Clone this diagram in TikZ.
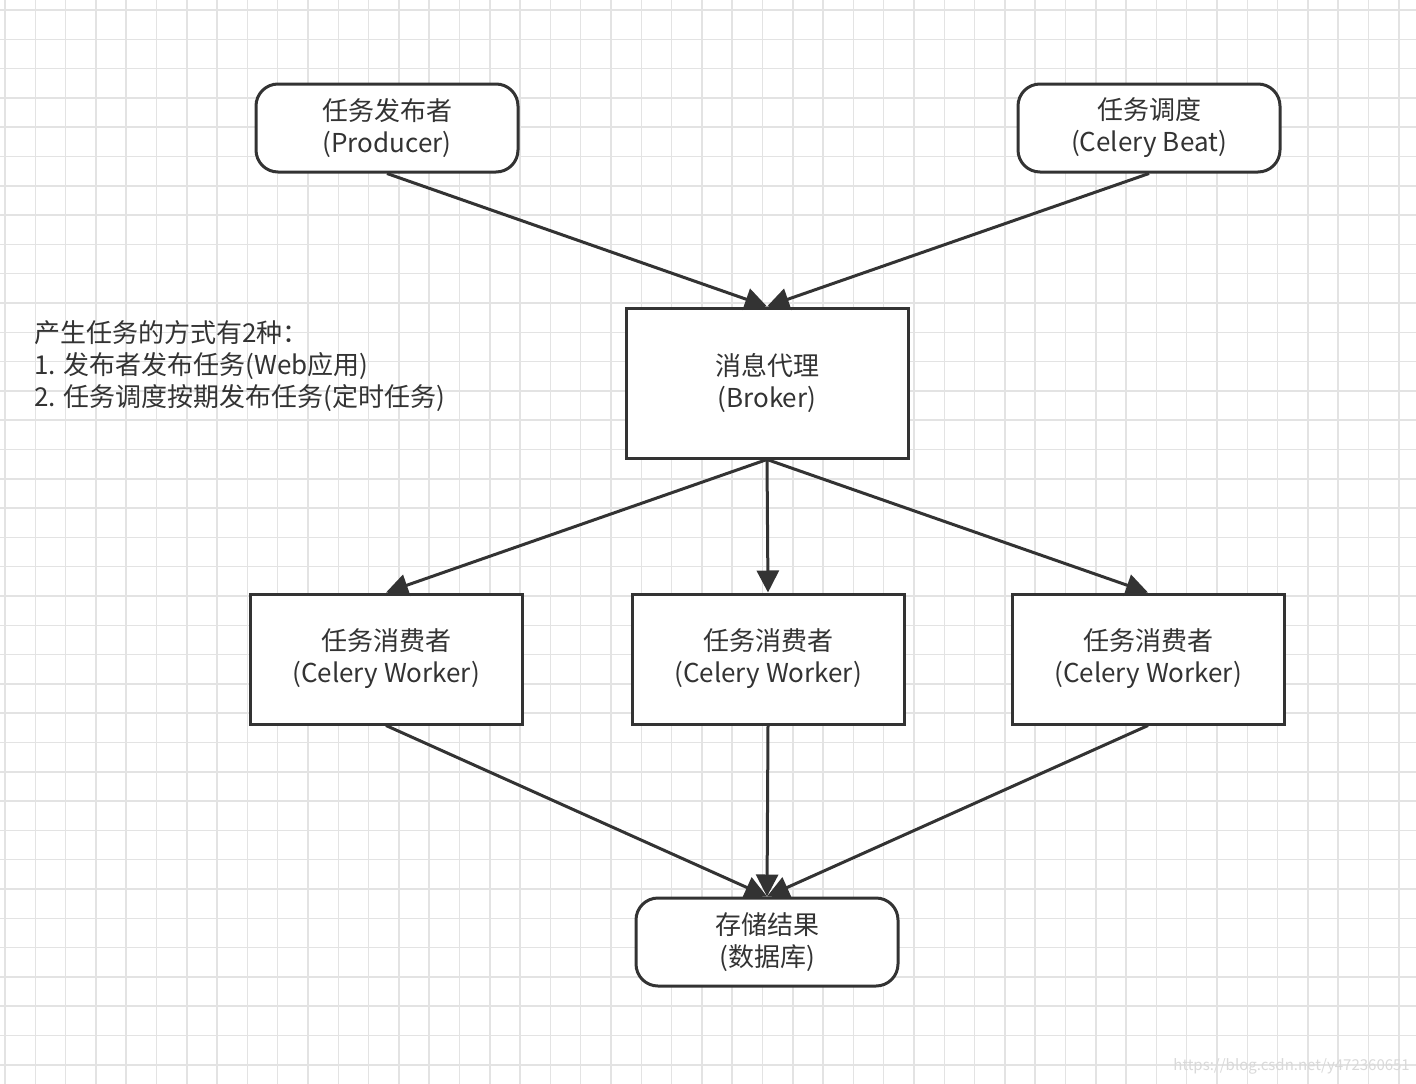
\documentclass[tikz,border=0pt]{standalone}
\usepackage{fontspec}
\setmainfont{Noto Sans CJK SC}
\usetikzlibrary{arrows.meta}
\definecolor{ink}{HTML}{333333}
\begin{document}
\begin{tikzpicture}[x=1pt,y=-1pt,
  box/.style={draw=ink,line width=3pt,fill=white,text=ink,align=center,font=\fontsize{26}{32}\selectfont,inner sep=0pt},
  rbox/.style={box,rounded corners=22pt},
  arr/.style={draw=ink,line width=3pt,-{Triangle[length=22pt,width=22pt]}}]
\fill[white] (0,0) rectangle (1416,1084);
\useasboundingbox (0,0) rectangle (1416,1084);
\foreach \i in {0,...,47} {\draw[black!11,line width=1.5pt] (\i*30.3+5,0) -- (\i*30.3+5,1084);}
\foreach \i in {0,...,36} {\draw[black!11,line width=1.5pt] (0,\i*29.3+10) -- (1416,\i*29.3+10);}
\node[rbox,minimum width=262pt,minimum height=88pt] (prod) at (387,128) {任务发布者\\(Producer)};
\node[rbox,minimum width=262pt,minimum height=88pt] (beat) at (1149,128) {任务调度\\(Celery Beat)};
\node[box,minimum width=282pt,minimum height=150pt] (broker) at (767,383) {消息代理\\(Broker)};
\node[box,minimum width=272pt,minimum height=130pt] (w1) at (386,659) {任务消费者\\(Celery Worker)};
\node[box,minimum width=272pt,minimum height=130pt] (w2) at (768,659) {任务消费者\\(Celery Worker)};
\node[box,minimum width=272pt,minimum height=130pt] (w3) at (1148,659) {任务消费者\\(Celery Worker)};
\node[rbox,minimum width=262pt,minimum height=88pt] (db) at (767,942) {存储结果\\(数据库)};
\node[anchor=north west,align=left,text=ink,font=\fontsize{26}{32}\selectfont,inner sep=0pt] (note) at (34,320) {产生任务的方式有2种：\\1. 发布者发布任务(Web应用)\\2. 任务调度按期发布任务(定时任务)};
\node[anchor=south east,text=black!15,font=\fontsize{15}{18}\selectfont,inner sep=0pt] (wm) at (1410,1074) {https://blog.csdn.net/y472360651};
\draw[arr] (prod.south) -- (broker.north);
\draw[arr] (beat.south) -- (broker.north);
\draw[arr] (broker.south) -- (w1.north);
\draw[arr] (broker.south) -- (w2.north);
\draw[arr] (broker.south) -- (w3.north);
\draw[arr] (w1.south) -- (db.north);
\draw[arr] (w2.south) -- (db.north);
\draw[arr] (w3.south) -- (db.north);
\end{tikzpicture}
\end{document}
